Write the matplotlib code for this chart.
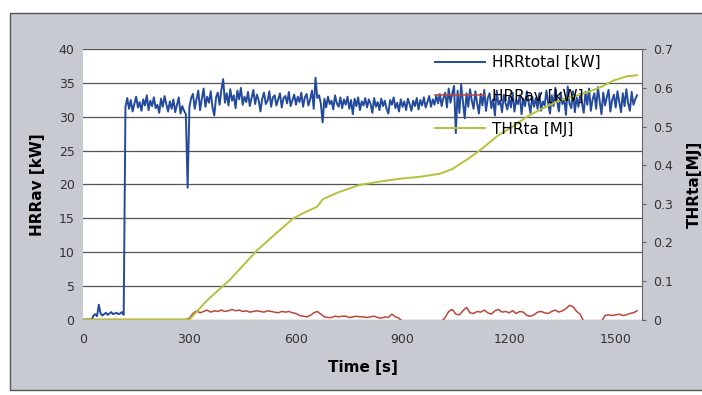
import numpy as np
import matplotlib
matplotlib.use("Agg")
import matplotlib.pyplot as plt
from matplotlib.patches import Rectangle

# ---------------- data ----------------
# HRRtotal [kW], sampled every 5 s from 0 to 1560 s
hrr_total_step = 5
hrr_total = [
    0, 0, 0, 0, 0, 0, 0.6, 0.8, 0.5, 2.2, 0.9, 0.6, 0.8, 1.0, 0.7, 0.9, 1.1, 0.8, 0.9, 1.0,
    0.8, 0.9, 1.1, 0.7, 31.5, 32.8, 31.2, 32.5, 30.8, 31.9, 33.0, 31.4, 32.2, 30.9, 32.6, 31.7, 33.2, 31.0, 32.4, 31.6,
    32.9, 31.3, 31.8, 30.6, 32.7, 31.5, 33.1, 31.9, 30.8, 32.3, 31.2, 32.6, 30.7, 31.8, 32.9, 30.5, 31.6, 30.9, 30.4, 19.5,
    31.5, 32.8, 33.4, 31.2, 32.6, 33.9, 31.0, 32.7, 34.2, 31.5, 33.0, 32.1, 33.8, 31.4, 30.2, 32.9, 33.6, 31.8, 34.0, 35.6,
    32.1, 33.5, 31.7, 34.1, 32.4, 33.2, 31.3, 33.9, 32.6, 34.3, 31.8, 33.0, 32.2, 33.7, 31.6, 32.8, 34.0, 31.9, 33.3, 32.5,
    30.8, 32.7, 33.6, 31.9, 32.4, 33.8, 31.5, 32.9, 33.2, 31.7, 32.6, 33.5, 31.4, 32.8, 33.1, 32.0, 33.7, 31.6, 32.5, 33.3,
    31.8, 33.0, 32.2, 33.6, 31.5, 32.9, 33.4, 31.7, 32.6, 33.9, 31.2, 35.8, 32.8, 33.2, 32.0, 29.2, 32.7, 31.4, 33.0, 31.9,
    32.4, 31.1, 33.2, 32.0, 31.5, 32.9, 31.3, 32.6, 31.8, 33.0, 31.2, 32.5, 30.4, 32.7, 31.6, 32.9, 31.0, 32.3, 31.7, 32.8,
    31.4, 32.6, 31.9, 30.6, 32.8, 31.5, 32.2, 31.0, 32.7, 31.6, 32.4, 31.2, 30.5, 32.5, 31.8, 32.9, 31.3, 32.1, 30.8, 32.6,
    31.5, 32.3, 31.0, 32.7, 31.9, 30.9, 32.4, 31.6, 32.8, 31.1, 32.5, 31.7, 32.9, 31.4, 32.2, 33.1, 31.5, 32.6, 31.8, 33.2,
    32.0, 33.4, 31.6, 32.8, 33.6, 31.4, 34.2, 32.1, 33.5, 34.6, 27.6, 33.9, 30.6, 34.8, 32.2, 29.8, 33.5, 31.5, 34.1, 32.4,
    31.2, 33.8, 32.0, 30.5, 33.4, 31.7, 34.0, 30.9, 32.8, 33.5, 31.3, 32.6, 30.2, 33.9, 31.8, 32.4, 30.7, 33.3, 32.0, 31.1,
    32.9, 31.4, 33.6, 30.8, 32.5, 31.9, 33.2, 30.4, 32.7, 31.6, 33.8, 32.1, 30.6, 33.0, 31.5, 32.8, 31.2, 33.5, 30.9, 32.3,
    31.7, 33.9, 32.0, 30.5, 33.2, 31.6, 34.3, 32.4, 30.8, 33.6, 31.9, 32.7, 30.3, 34.5, 32.0, 31.3, 33.8, 30.7, 32.9, 31.5,
    33.4, 32.1, 30.6, 33.7, 31.8, 34.2, 30.9, 32.6, 33.5, 31.2, 34.4, 32.3, 30.4, 33.6, 31.7, 32.9, 34.0, 30.8, 32.5, 33.3,
    31.4, 33.8, 32.2, 30.7, 33.5, 31.6, 34.1, 32.0, 30.9, 33.7, 31.8, 32.6, 33.2,
]

# HRRav [kW], sampled every 10 s from 0 to 1560 s (negative = hidden below axis)
hrr_av_step = 10
hrr_av = [
    0, 0, 0, 0, 0, 0, 0, 0, 0, 0, 0, 0, 0, 0, 0, 0, 0, 0, 0, 0, 0, 0, 0, 0, 0, 0, 0, 0, 0, 0,
    0.2, 0.9, 1.3, 1.0, 1.2, 1.4, 1.1, 1.3, 1.2, 1.4,
    1.2, 1.3, 1.5, 1.3, 1.4, 1.2, 1.3, 1.1, 1.2, 1.3,
    1.2, 1.1, 1.3, 1.2, 1.1, 1.0, 1.2, 1.1, 1.2, 1.0,
    0.9, 0.6, 0.5, 0.4, 0.6, 1.0, 1.2, 0.8, 0.4, 0.3,
    0.3, 0.5, 0.4, 0.5, 0.5, 0.3, 0.4, 0.5, 0.4, 0.4,
    0.3, 0.4, 0.5, 0.3, 0.2, 0.4, 0.3, 0.8, 0.4, 0.2,
    -0.3, -0.3, -0.3, -0.3, -0.3, -0.3, -0.3, -0.3, -0.3, -0.3, -0.3, -0.3,
    0.3, 1.2, 1.5, 0.8, 0.7, 1.3, 1.8, 1.0,
    0.9, 1.2, 1.1, 1.4, 1.0, 0.8, 1.3, 1.5, 1.1, 1.2,
    1.0, 1.3, 0.9, 1.2, 1.1, 0.6, 0.5, 0.7, 1.1, 1.2,
    1.0, 0.9, 1.2, 1.4, 1.1, 1.3, 1.6, 2.1, 1.9, 1.2,
    0.8, -0.3, -0.3, -0.3, -0.3, -0.3, -0.3,
    0.6, 0.7, 0.6, 0.7, 0.8, 0.6, 0.7, 0.9, 1.0, 1.3,
]

# THRta [MJ]
thr_time = [0, 300, 310, 350, 414, 490, 540, 592, 630, 659, 676, 720, 780, 840, 893,
            950, 1006, 1040, 1082, 1120, 1166, 1210, 1251, 1290, 1335, 1380, 1420,
            1460, 1493, 1530, 1560]
thr_val = [0, 0, 0.01, 0.05, 0.103, 0.179, 0.22, 0.262, 0.28, 0.292, 0.312, 0.33,
           0.349, 0.358, 0.365, 0.37, 0.378, 0.39, 0.415, 0.44, 0.475, 0.5, 0.526,
           0.545, 0.565, 0.578, 0.589, 0.603, 0.619, 0.63, 0.633]

x_ticks = [0, 300, 600, 900, 1200, 1500]
y_left_ticks = [0, 5, 10, 15, 20, 25, 30, 35, 40]
y_right_ticks = [0, 0.1, 0.2, 0.3, 0.4, 0.5, 0.6, 0.7]
y_right_labels = ["0", "0.1", "0.2", "0.3", "0.4", "0.5", "0.6", "0.7"]

t_total = np.arange(len(hrr_total)) * hrr_total_step
t_av = np.arange(len(hrr_av)) * hrr_av_step

# ---------------- plot ----------------
BG = "#c7cad0"
fig = plt.figure(figsize=(7.02, 3.95), dpi=100, facecolor="white")
fig.patches.append(Rectangle((0.014, 0.013), 0.99, 0.954, transform=fig.transFigure,
                             facecolor=BG, edgecolor="#555555", lw=1.0, zorder=-10))

ax = fig.add_axes([0.118, 0.191, 0.797, 0.684])
ax.set_facecolor("white")
ax2 = ax.twinx()

l1, = ax.plot(t_total, hrr_total, color="#234a9c", lw=1.4, label="HRRtotal [kW]")
l2, = ax.plot(t_av, hrr_av, color="#b9473d", lw=1.1, label="HRRav [kW]")
l3, = ax2.plot(thr_time, thr_val, color="#b5c13c", lw=1.4, label="THRta [MJ]")

ax.set_xlim(0, 1575)
ax.set_ylim(0, 40)
ax2.set_ylim(0, 0.7)
ax.set_xticks(x_ticks)
ax.set_yticks(y_left_ticks)
ax2.set_yticks(y_right_ticks)
ax2.set_yticklabels(y_right_labels)

ax.grid(axis="y", color="#555555", lw=0.9)
ax.set_axisbelow(True)

for a in (ax, ax2):
    for s in ("top", "left", "bottom"):
        a.spines[s].set_visible(False)
    a.spines["right"].set_color("#666666")
ax.spines["right"].set_visible(False)

ax.tick_params(axis="x", length=0, labelsize=9, labelcolor="#333333", pad=10)
ax.tick_params(axis="y", length=0, labelsize=9, labelcolor="#333333", pad=6)
ax2.tick_params(axis="y", length=3, color="#666666", labelsize=9, labelcolor="#333333", pad=5)

ax.set_xlabel("Time [s]", fontsize=11, fontweight="bold", labelpad=10)
ax.set_ylabel("HRRav [kW]", fontsize=11, fontweight="bold", labelpad=10)
ax2.set_ylabel("THRta[MJ]", fontsize=11, fontweight="bold", rotation=90, labelpad=10)

ax2.legend(handles=[l1, l2, l3], loc="upper left", bbox_to_anchor=(0.605, 1.03),
           frameon=False, fontsize=11, handlelength=3.3, handletextpad=0.4,
           labelspacing=1.2)

fig.savefig("out.png", dpi=100, facecolor="white")
